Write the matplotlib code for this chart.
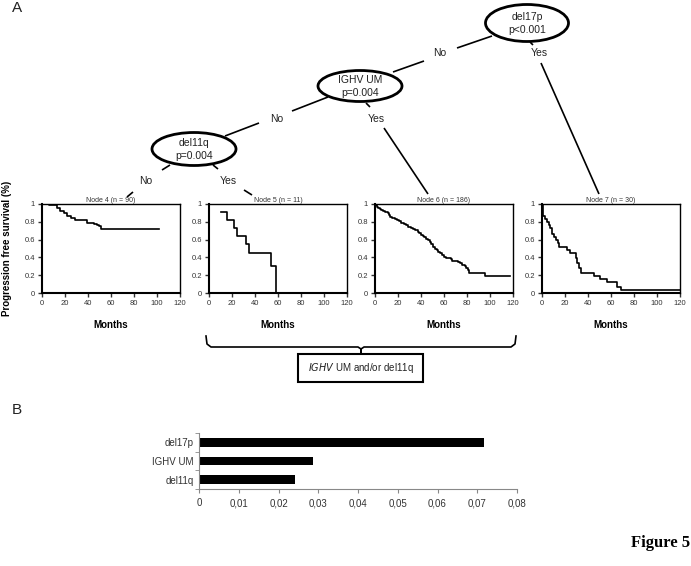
import matplotlib.pyplot as plt
from matplotlib.patches import Ellipse, Rectangle

plt.rcParams['font.family'] = ['Liberation Sans', 'DejaVu Sans']

# Kaplan-Meier curves per terminal node (time in months, survival after step)
node4_t = [0, 6, 13, 16, 19, 22, 25, 29, 39, 45, 48, 49.5, 51, 102]
node4_s = [1.0, 0.985, 0.95, 0.92, 0.895, 0.87, 0.845, 0.815, 0.79, 0.78, 0.765, 0.75, 0.72, 0.72]

node5_t = [10, 15.5, 22, 24, 32, 34.5, 53.5, 58.5]
node5_s = [0.909, 0.818, 0.727, 0.636, 0.545, 0.455, 0.303, 0.0]

node6_t = [0, 1, 2, 3, 4, 5.5, 7, 9, 11, 12, 13, 15, 17, 19, 21, 23, 25, 27, 29, 31, 33, 35,
           37, 38.5, 40, 41.5, 43, 44.5, 46, 47.5, 49, 50.5, 52, 53.5, 55, 56.5, 58, 60, 62,
           66, 67, 72, 74, 75.5, 78, 79.5, 81, 82, 96, 117]
node6_s = [1.0, 0.985, 0.97, 0.955, 0.945, 0.93, 0.92, 0.905, 0.895, 0.875, 0.85, 0.84, 0.83,
           0.82, 0.805, 0.79, 0.775, 0.76, 0.745, 0.73, 0.715, 0.705, 0.685, 0.67, 0.655,
           0.64, 0.625, 0.61, 0.59, 0.57, 0.545, 0.52, 0.5, 0.485, 0.465, 0.445, 0.425, 0.41,
           0.395, 0.385, 0.355, 0.345, 0.335, 0.315, 0.3, 0.28, 0.26, 0.22, 0.19, 0.19]

node7_t = [0, 0.6, 1.2, 3, 4.5, 6, 7, 8.5, 10.5, 12, 13.5, 14.5, 21.5, 24, 29.5, 30.7, 32,
           33.6, 45, 50, 56.5, 65.5, 68.5, 120]
node7_s = [1.0, 0.933, 0.867, 0.833, 0.8, 0.767, 0.733, 0.667, 0.633, 0.6, 0.567, 0.52,
           0.483, 0.446, 0.39, 0.333, 0.277, 0.22, 0.195, 0.157, 0.12, 0.071, 0.037, 0.037]

node_titles = ['Node 4 (n = 90)', 'Node 5 (n = 11)', 'Node 6 (n = 186)', 'Node 7 (n = 30)']
km_left = [42, 209, 375, 542]

# panel B
bar_labels = ['del11q', 'IGHV UM', 'del17p']
bar_values = [0.0241, 0.0287, 0.0716]
bar_ticks = [0, 0.01, 0.02, 0.03, 0.04, 0.05, 0.06, 0.07, 0.08]

W, H = 691, 566
fig = plt.figure(figsize=(W / 100, H / 100), dpi=100)

bg = fig.add_axes([0, 0, 1, 1])
bg.set_xlim(0, W)
bg.set_ylim(H, 0)
bg.axis('off')


def line(x0, y0, x1, y1, lw=1.2):
    bg.plot([x0, x1], [y0, y1], color='black', lw=lw, solid_capstyle='butt')


def node(cx, cy, w, h, name, p):
    bg.add_patch(Ellipse((cx, cy), w, h, fill=False, lw=2, ec='black'))
    bg.text(cx, cy - 6, name, ha='center', va='center', fontsize=7.5, color='#222')
    bg.text(cx, cy + 7, p, ha='center', va='center', fontsize=7.5, color='#222')


def lbl(x, y, s):
    bg.text(x, y, s, ha='center', va='center', fontsize=7.5, color='#222')


# tree
node(527, 23, 83, 37, 'del17p', 'p<0.001')
line(492, 36, 457, 48)
lbl(440, 53, 'No')
line(424, 61, 393, 72)
line(530, 42, 533, 45)
lbl(539, 53, 'Yes')
line(541, 63, 599, 194)

node(360, 86, 84, 31, 'IGHV UM', 'p=0.004')
line(328, 97, 292, 111)
lbl(277, 119, 'No')
line(259, 123, 225, 136)
line(366, 103, 370, 107)
lbl(376, 119, 'Yes')
line(384, 128, 428, 194)

node(194, 149, 84, 33, 'del11q', 'p=0.004')
line(170, 165, 162, 170)
lbl(146, 181, 'No')
line(133, 192, 127, 197)
line(213, 165, 218, 169)
lbl(228, 181, 'Yes')
line(244, 190, 252, 195)

bg.text(12, 8, 'A', fontsize=11, ha='left', va='center', color='#222')
bg.text(12, 410, 'B', fontsize=11, ha='left', va='center', color='#222')
bg.text(7, 248, 'Progression free survival (%)', rotation=90, fontsize=7,
        fontweight='bold', ha='center', va='center')

# KM panels
curves = [(node4_t, node4_s), (node5_t, node5_s), (node6_t, node6_s), (node7_t, node7_s)]
for left, title, (t, s) in zip(km_left, node_titles, curves):
    ax = fig.add_axes([left / W, (H - 293) / H, 138 / W, 89 / H])
    ax.step(t, s, where='post', color='black', lw=1.2)
    ax.set_xlim(0, 120)
    ax.set_ylim(0, 1)
    ax.set_xticks(range(0, 121, 20))
    ax.set_yticks([0, 0.2, 0.4, 0.6, 0.8, 1])
    ax.set_yticklabels(['0', '0.2', '0.4', '0.6', '0.8', '1'])
    ax.tick_params(labelsize=5.5, colors='#333', length=3, width=1, pad=2)
    for side in ['left', 'bottom']:
        ax.spines[side].set_linewidth(1.5)
    for side in ['top', 'right']:
        ax.spines[side].set_linewidth(1.0)
    ax.set_title(title, fontsize=5, color='#333', pad=1)
    bg.text(left + 69, 325, 'Months', fontsize=7, fontweight='bold', ha='center', va='center')

# brace and box
bx0, bx1, bc, by = 206, 516, 361, 347
bg.plot([bx0, bx0 + 1, bx0 + 5, bc - 3, bc, bc, bc, bc + 3, bx1 - 5, bx1 - 1, bx1],
        [336, 344, by, by, by + 2, by + 6, by + 2, by, by, 344, 336], color='black', lw=1.2)
bg.add_patch(Rectangle((298, 354), 125, 28, fill=False, lw=1.5, ec='black'))
bg.text(361, 368, r'$\it{IGHV}$ UM and/or del11q', fontsize=7, ha='center', va='center', color='#222')

# panel B bars
axb = fig.add_axes([199 / W, (H - 489) / H, 318 / W, 56 / H])
axb.barh(range(len(bar_labels)), bar_values, height=0.45, color='black')
axb.set_xlim(0, 0.08)
axb.set_ylim(-0.5, 2.5)
axb.set_xticks(bar_ticks)
axb.set_xticklabels(['0'] + [f'{v:.2f}'.replace('.', ',') for v in bar_ticks[1:]])
axb.set_yticks(range(len(bar_labels)))
axb.set_yticklabels(bar_labels)
axb.set_yticks([-0.5, 0.5, 1.5, 2.5], minor=True)
axb.tick_params(axis='y', which='major', length=0, labelsize=7, colors='#333', pad=4)
axb.tick_params(axis='y', which='minor', length=3, color='#888')
axb.tick_params(axis='x', length=3, color='#888', labelsize=7, labelcolor='#333')
for side in ['top', 'right']:
    axb.spines[side].set_visible(False)
for side in ['left', 'bottom']:
    axb.spines[side].set_color('#888')

bg.text(690, 543, 'Figure 5', fontsize=12, fontweight='bold', family='Liberation Serif',
        ha='right', va='center')

fig.savefig('out.png', dpi=100)
